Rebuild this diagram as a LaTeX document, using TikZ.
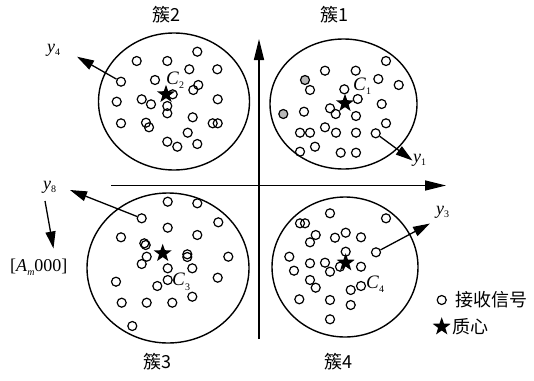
\documentclass[tikz,border=0pt]{standalone}
\usepackage{fontspec}
\setmainfont{Liberation Serif}
\newfontfamily\cjk{Noto Sans CJK SC}
\usetikzlibrary{shapes.geometric,arrows.meta}
\newcommand\ysub[1]{\textit{y}\raisebox{-3.5pt}{\fontsize{10}{10}\selectfont #1}}
\newcommand\csub[1]{\textit{C}\raisebox{-4.5pt}{\fontsize{10}{10}\selectfont #1}}
\begin{document}
\begin{tikzpicture}[x=1pt,y=-1pt,
  cl/.style={ellipse,draw,line width=1.4pt,inner sep=0pt},
  pt/.style={circle,draw,line width=1.2pt,minimum size=9pt,inner sep=0pt},
  gpt/.style={pt,fill=black!28},
  cen/.style={star,star points=5,star point ratio=2.5,fill=black,minimum size=19pt,inner sep=0pt},
  arr/.style={line width=1.3pt,-{Triangle[length=17pt,width=10pt]}},
  ax/.style={line width=1.4pt,-{Triangle[length=21pt,width=10pt]}},
  lab/.style={font=\fontsize{18}{18}\selectfont\cjk,inner sep=0pt},
  yl/.style={font=\fontsize{18}{18}\selectfont,inner sep=0pt},
  cl2/.style={font=\fontsize{19}{19}\selectfont,inner sep=0pt}]
\useasboundingbox (0,0) rectangle (534,380);
% axes
\coordinate (vb) at (259,339);
\coordinate (vt) at (259,39);
\coordinate (hl) at (111,185.5);
\coordinate (hr) at (446,185.5);
\draw[ax] (vb) -- (vt);
\draw[ax] (hl) -- (hr);
% cluster circles
\node[cl,minimum width=151pt,minimum height=137pt] (k2) at (174,101.5) {};
\node[cl,minimum width=147pt,minimum height=130pt] (k1) at (343.5,104) {};
\node[cl,minimum width=162pt,minimum height=150pt] (k3) at (168,268) {};
\node[cl,minimum width=146pt,minimum height=140pt] (k4) at (345,267) {};
% cluster 2 points
\foreach \x/\y [count=\i] in {197.3/51.7,136.7/61,167.3/61,189.3/69.3,217.3/69.3,155/80,198.3/85,193.3/90,172.7/94.3,116.7/101.7,141.7/99.3,151/104.3,167.3/106,167.3/113.3,217.7/99.3,121/123.3,146/122.7,149/127.3,192.7/117.3,212.7/123.3,217.7/123.3,187.7/132.7,167.3/141.7,177.3/146.7,197.3/144}
  \node[pt] (b\i) at (\x,\y) {};
\node[pt] (s4) at (121,81.7) {};
% cluster 1 points
\foreach \x/\y [count=\i] in {386/61,325/70.7,355.7/70.7,378.3/79,398.7/85,310/90,344.3/89.3,357.7/99,381.7/104,304/111.7,330/108.3,335.7/114,356/116,386/123.3,325/127.3,300/132.7,310/132.7,336/132.7,356/132.7,315/146.7,300/151.7,340.7/152.7,356/152.7}
  \node[pt] (a\i) at (\x,\y) {};
\node[gpt] (g1) at (305,80) {};
\node[gpt] (g2) at (283.3,114) {};
\node[pt] (s1) at (375.7,133.3) {};
% cluster 3 points
\foreach \x/\y [count=\i] in {167.7/201.7,197.3/203.3,218.3/222.3,167.7/227.7,121/237.3,197.3/235,144.3/243.3,145.7/245,187.3/254.3,187.3/257,146.7/256.7,228.3/256.7,141.7/264,167.7/268.3,192.3/268.3,116/281.7,167.7/280,157.3/286,217.7/277.7,121.7/302.7,146.7/302.7,172.3/302.7,192.3/296.7,132.3/326}
  \node[pt] (c\i) at (\x,\y) {};
\node[pt] (s8) at (141.7,218.3) {};
% cluster 4 points
\foreach \x/\y [count=\i] in {330/213.3,386/218.3,300/223.3,305/223.3,315.7/235,345.7/232.7,335/237.7,361/237.3,310/242.3,345.7/251.7,289.3/256.7,310/263.3,325/262.7,340/266.7,361/266.7,330/271.7,294/270.7,310/280,315.7/287.7,361/286,350.7/290,299.3/299.3,330/300,350.7/305,330/319.3}
  \node[pt] (d\i) at (\x,\y) {};
\node[pt] (s3) at (376,252.3) {};
% centroids
\node[cen] (m2) at (166,94.3) {};
\node[cen] (m1) at (345,103.3) {};
\node[cen] (m3) at (162.7,253.3) {};
\node[cen] (m4) at (345.7,262.7) {};
\node[cl2,anchor=west] (t2) at (166,80) {\csub{2}};
\node[cl2,anchor=west] (t1) at (353,86) {\csub{1}};
\node[cl2,anchor=west] (t3) at (172,282) {\csub{3}};
\node[cl2,anchor=west] (t4) at (366,284) {\csub{4}};
% cluster labels
\node[lab] (n2) at (166,15) {簇2};
\node[lab] (n1) at (334,15) {簇1};
\node[lab] (n3) at (157,362) {簇3};
\node[lab] (n4) at (338,362) {簇4};
% arrows and y labels
\coordinate (e4) at (77,56.7);
\coordinate (e1) at (412.5,160.5);
\coordinate (e3) at (430,223.5);
\coordinate (e8) at (70,190);
\draw[arr] (s4) -- (e4);
\draw[arr] (s1) -- (e1);
\draw[arr] (s3) -- (e3);
\draw[arr] (s8) -- (e8);
\node[yl,anchor=west] (y4) at (47,50) {\ysub{4}};
\node[yl,anchor=west] (y1) at (413,160) {\ysub{1}};
\node[yl,anchor=west] (y3) at (436,212) {\ysub{3}};
\node[yl,anchor=west] (y8) at (43,187) {\ysub{8}};
\coordinate (dn0) at (45,201);
\coordinate (dn1) at (53.5,248.5);
\draw[arr] (dn0) -- (dn1);
\node[yl,anchor=west] (am) at (10,267) {[\textit{A}\raisebox{-4.5pt}{\fontsize{10}{10}\selectfont\itshape m}000]};
% legend
\node[pt] (lg1) at (441.7,300) {};
\node[lab,anchor=west] (lt1) at (455,300) {接收信号};
\node[cen] (lg2) at (441.7,326.7) {};
\node[lab,anchor=west] (lt2) at (452,327) {质心};
\end{tikzpicture}
\end{document}
